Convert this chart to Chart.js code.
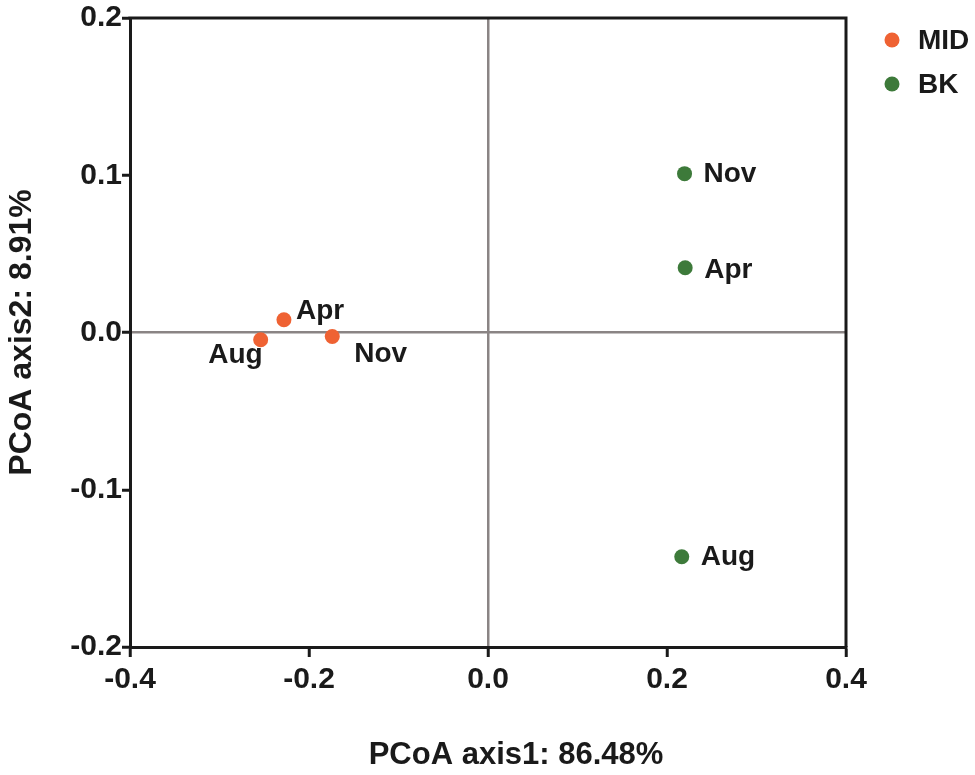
<!DOCTYPE html>
<html>
<head>
<meta charset="utf-8">
<script src="https://cdn.jsdelivr.net/npm/chart.js@4/dist/chart.umd.min.js"></script>
<style>
    html, body { margin: 0; padding: 0; background: #ffffff; }
    #wrap { width: 975px; height: 775px; }
</style>
</head>
<body>
<div id="wrap"><canvas id="pcoaChart" width="975" height="775"></canvas></div>
<script>
// PCoA sample scores
const seriesNames = ["MID", "BK"];
const midSamples = ["Aug", "Apr", "Nov"];
const midX = [-0.254, -0.228, -0.174];
const midY = [-0.0046, 0.0081, -0.0025];
const bkSamples = ["Nov", "Apr", "Aug"];
const bkX = [0.2196, 0.2203, 0.2165];
const bkY = [0.101, 0.0412, -0.1426];

// tick labels
const xTicks = [-0.4, -0.2, 0.0, 0.2, 0.4];
const yTicks = [-0.2, -0.1, 0.0, 0.1, 0.2];

const xTitle = "PCoA axis1: 86.48%";
const yTitle = "PCoA axis2: 8.91%";

const FONT = "'Liberation Sans', Arial, Helvetica, sans-serif";
const INK = "#1a1a1a";
const colors = ["#ef6233", "#3d7a3a"];

function toPoints(xs, ys) {
    return xs.map(function (x, i) { return { x: x, y: ys[i] }; });
}

// where each sample label sits relative to its point
const labelPlacement = {
    MID: {
        Aug: { align: "right", dx: 2, dy: 16 },
        Apr: { align: "left", dx: 12, dy: -8 },
        Nov: { align: "left", dx: 22, dy: 18 }
    },
    BK: {
        Nov: { align: "left", dx: 19, dy: 1 },
        Apr: { align: "left", dx: 19, dy: 3 },
        Aug: { align: "left", dx: 19, dy: 1 }
    }
};

// frame, point labels, legend and axis titles
const decorPlugin = {
    id: "decor",
    afterDatasetsDraw: function (chart) {
        const ctx = chart.ctx;
        const area = chart.chartArea;
        ctx.save();

        // top and right frame lines
        ctx.strokeStyle = INK;
        ctx.lineWidth = 3;
        ctx.beginPath();
        ctx.moveTo(area.left - 1.5, area.top);
        ctx.lineTo(area.right, area.top);
        ctx.lineTo(area.right, area.bottom);
        ctx.stroke();

        // sample labels
        ctx.fillStyle = INK;
        ctx.font = "bold 28px " + FONT;
        ctx.textBaseline = "middle";
        chart.data.datasets.forEach(function (ds, di) {
            const meta = chart.getDatasetMeta(di);
            meta.data.forEach(function (pt, i) {
                const name = ds.sampleNames[i];
                const p = labelPlacement[ds.label][name];
                ctx.textAlign = p.align;
                ctx.fillText(name, pt.x + p.dx, pt.y + p.dy);
            });
        });

        // legend
        chart.data.datasets.forEach(function (ds, di) {
            const ly = area.top + 22 + di * 44;
            ctx.fillStyle = ds.backgroundColor;
            ctx.beginPath();
            ctx.arc(area.right + 46, ly, 7.5, 0, Math.PI * 2);
            ctx.fill();
            ctx.fillStyle = INK;
            ctx.textAlign = "left";
            ctx.fillText(ds.label, area.right + 72, ly + 1);
        });

        // axis titles
        ctx.font = "bold 31px " + FONT;
        ctx.textAlign = "center";
        ctx.fillText(xTitle, (area.left + area.right) / 2 + 28, 755);
        ctx.font = "bold 32px " + FONT;
        ctx.translate(22, (area.top + area.bottom) / 2);
        ctx.rotate(-Math.PI / 2);
        ctx.fillText(yTitle, 0, 0);
        ctx.restore();
    }
};

function zeroLineColor(c) {
    return c.tick && c.tick.value === 0 ? "#8a8484" : "rgba(0,0,0,0)";
}

new Chart(
    document.getElementById("pcoaChart"),
    {
        type: "scatter",
        data: {
            datasets: [
                {
                    label: seriesNames[0],
                    sampleNames: midSamples,
                    data: toPoints(midX, midY),
                    backgroundColor: colors[0],
                    borderWidth: 0,
                    pointRadius: 7.5
                },
                {
                    label: seriesNames[1],
                    sampleNames: bkSamples,
                    data: toPoints(bkX, bkY),
                    backgroundColor: colors[1],
                    borderWidth: 0,
                    pointRadius: 7.5
                }
            ]
        },
        options: {
            responsive: false,
            animation: false,
            layout: {
                padding: { left: 0, top: 16, right: 129, bottom: 0 }
            },
            plugins: {
                legend: { display: false },
                tooltip: { enabled: false }
            },
            scales: {
                x: {
                    min: -0.4,
                    max: 0.4,
                    afterBuildTicks: function (scale) {
                        scale.ticks = xTicks.map(function (v) { return { value: v }; });
                    },
                    afterFit: function (scale) { scale.height = 128; },
                    border: { display: true, color: INK, width: 3 },
                    grid: {
                        color: zeroLineColor,
                        lineWidth: 2.5,
                        tickColor: INK,
                        tickWidth: 3,
                        tickLength: 10
                    },
                    ticks: {
                        padding: 5,
                        color: INK,
                        font: { family: FONT, size: 30, weight: "bold" },
                        callback: function (value) { return Number(value).toFixed(1); }
                    }
                },
                y: {
                    min: -0.2,
                    max: 0.2,
                    afterBuildTicks: function (scale) {
                        scale.ticks = yTicks.map(function (v) { return { value: v }; });
                    },
                    afterFit: function (scale) { scale.width = 130; },
                    border: { display: true, color: INK, width: 3 },
                    grid: {
                        color: zeroLineColor,
                        lineWidth: 2.5,
                        tickColor: INK,
                        tickWidth: 3,
                        tickLength: 8
                    },
                    ticks: {
                        padding: 0,
                        color: INK,
                        font: { family: FONT, size: 30, weight: "bold" },
                        callback: function (value) { return Number(value).toFixed(1); }
                    }
                }
            }
        },
        plugins: [decorPlugin]
    }
);
</script>
</body>
</html>
